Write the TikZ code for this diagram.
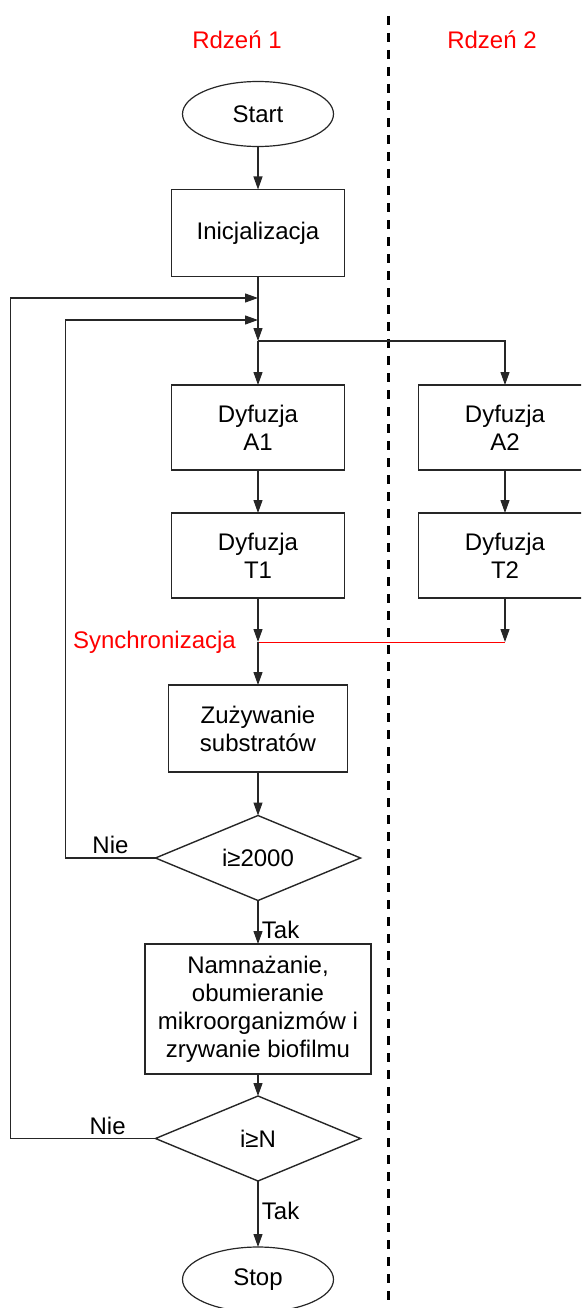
\documentclass[tikz,border=0pt]{standalone}
\usepackage{fontspec}
\setmainfont{Liberation Sans}
\usetikzlibrary{shapes.geometric,positioning,arrows.meta,calc}
\tikzset{
  >={Triangle[length=13pt,width=9pt]},
  line/.style={draw=black!85, line width=1.2pt},
  block/.style={rectangle, draw=black!85, line width=1.2pt, align=center,
    inner sep=0pt, outer sep=0pt, minimum width=173pt, minimum height=85pt},
  term/.style={ellipse, draw=black!85, line width=1.2pt, inner sep=0pt,
    outer sep=0pt, minimum width=151pt, minimum height=65pt},
  decision/.style={diamond, draw=black!85, line width=1.4pt, inner sep=0pt,
    outer sep=0pt, aspect=2.4, minimum width=205pt, minimum height=85pt},
  core/.style={text=red},
  syncline/.style={draw=red, line width=1pt},
  separator/.style={draw=black, line width=3pt, dash pattern=on 9pt off 8pt},
}
\begin{document}
\begin{tikzpicture}[
  x=1pt,y=-1pt,
  font=\fontsize{24}{28}\selectfont,
  node distance=43pt,
]
\clip (0,0) rectangle (581,1308);

\node[core] (core1) at (237,40) {Rdzeń 1};
\node[core] (core2) at (492,40) {Rdzeń 2};
\draw[separator] (388,16) -- (388,1308);

\node[term] (start) at (258,114) {Start};
\node[block, minimum height=87pt, below=of start] (init) {Inicjalizacja};
\node[block, below=108.5pt of init] (dA1) {Dyfuzja\\A1};
\node[block, right=74pt of dA1] (dA2) {Dyfuzja\\A2};
\node[block, below=of dA1] (dT1) {Dyfuzja\\T1};
\node[block, below=of dA2] (dT2) {Dyfuzja\\T2};
\node[block, minimum width=179pt, minimum height=87pt, below=87pt of dT1] (use) {Zużywanie\\substratów};
\node[decision, below=43.5pt of use] (i2000) {i≥2000};
\node[block, minimum width=226pt, minimum height=130pt, below=43.5pt of i2000] (grow)
  {Namnażanie,\\obumieranie\\mikroorganizmów i\\zrywanie biofilmu};
\node[decision, below=22pt of grow] (iN) {i≥N};
\node[term, below=66pt of iN] (stop) {Stop};

\coordinate (outer) at (258,298);
\coordinate (inner) at (258,320);
\coordinate (split) at (258,341);
\coordinate (sync1) at (258,642);
\coordinate (sync2) at (dT2.south |- sync1);
\node[core, inner sep=0pt, left=22pt of sync1] (synclbl) {Synchronizacja};

\draw[line,->] (start) -- (init);
\draw[line,->] (init) -- (split);
\draw[line,->] (split) -- (dA1);
\draw[line,->] (split) -| (dA2);
\draw[line,->] (dA1) -- (dT1);
\draw[line,->] (dA2) -- (dT2);
\draw[line,->] (dT1) -- (sync1);
\draw[line,->] (dT2) -- (sync2);
\draw[syncline] (sync1) -- (sync2);
\draw[line,->] (sync1) -- (use);
\draw[line,->] (use) -- (i2000);
\draw[line,->] (i2000) -- node[pos=0.67,right] {Tak} (grow);
\draw[line,->] (grow) -- (iN);
\draw[line,->] (iN) -- node[pos=0.45,right] {Tak} (stop);
\draw[line,->] (i2000.west) -- node[above] {Nie} ++(-90,0) |- (inner);
\draw[line,->] (iN.west) -- node[pos=0.33,above] {Nie} ++(-145,0) |- (outer);
\end{tikzpicture}
\end{document}
